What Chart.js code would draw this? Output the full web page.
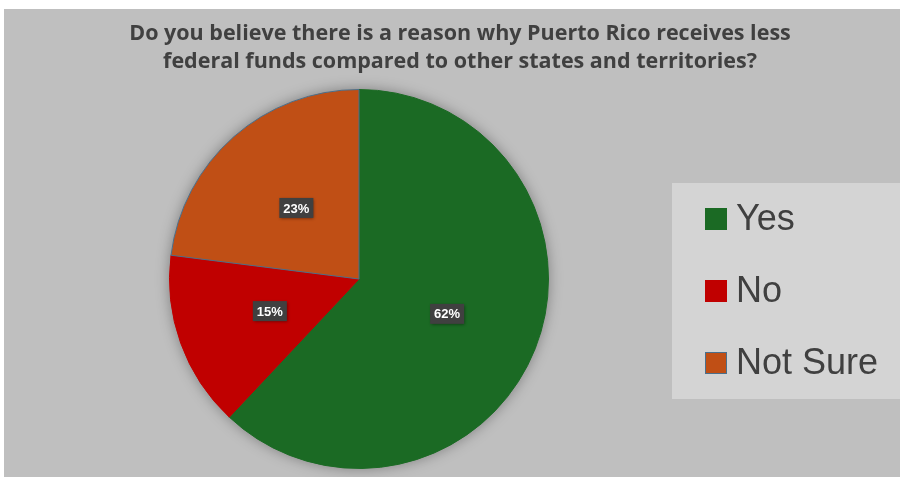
<!DOCTYPE html>
<html>
<head>
<meta charset="utf-8">
<script src="https://cdn.jsdelivr.net/npm/chart.js@4/dist/chart.umd.min.js"></script>
<style>
  html, body { margin: 0; padding: 0; background: #ffffff; }
  #wrap { position: relative; width: 900px; height: 477px; }
</style>
</head>
<body>
<div id="wrap"><canvas id="myChart" width="900" height="477"></canvas></div>
<script>
const titleLines = [
    "Do you believe there is a reason why Puerto Rico receives less",
    "federal funds compared to other states and territories?"
];
const answers = ["Yes", "No", "Not Sure"];
const shares = [62, 15, 23];
const sliceColors = ["#1b6a24", "#c00000", "#c04f15"];
const edgeColors = ["#1b6a24", "#c00000", "#4a6f8c"];

// background panel, title and the soft shadow under the pie
const backdrop = {
    id: "backdrop",
    beforeDraw(chart) {
        const ctx = chart.ctx;
        ctx.save();
        ctx.fillStyle = "#bfbfbf";
        ctx.fillRect(4, 9, chart.width - 4, chart.height - 9);

        ctx.fillStyle = "#404040";
        ctx.font = "bold 21.5px 'Open Sans', 'Liberation Sans', sans-serif";
        ctx.textAlign = "center";
        ctx.textBaseline = "alphabetic";
        ctx.fillText(titleLines[0], 460, 40);
        ctx.fillText(titleLines[1], 460, 68);
        ctx.restore();
    },
    beforeDatasetsDraw(chart) {
        const arc = chart.getDatasetMeta(0).data[0];
        if (!arc) return;
        const ctx = chart.ctx;
        ctx.save();
        ctx.shadowColor = "rgba(0,0,0,0.35)";
        ctx.shadowBlur = 14;
        ctx.fillStyle = "#bfbfbf";
        ctx.beginPath();
        ctx.arc(arc.x, arc.y, arc.outerRadius, 0, Math.PI * 2);
        ctx.fill();
        ctx.restore();
    }
};

// percentage tags on each slice plus the boxed legend on the right
const tagsAndLegend = {
    id: "tagsAndLegend",
    afterDatasetsDraw(chart) {
        const ctx = chart.ctx;
        const meta = chart.getDatasetMeta(0);
        ctx.save();
        ctx.font = "bold 13px 'Liberation Sans', Arial, sans-serif";
        ctx.textAlign = "center";
        ctx.textBaseline = "middle";
        meta.data.forEach((el, i) => {
            const p = el.tooltipPosition();
            const txt = shares[i] + "%";
            const w = ctx.measureText(txt).width + 8;
            const h = 20;
            ctx.shadowColor = "rgba(0,0,0,0.45)";
            ctx.shadowBlur = 3;
            ctx.shadowOffsetX = 1;
            ctx.shadowOffsetY = 1;
            ctx.fillStyle = "#404040";
            ctx.fillRect(p.x - w / 2, p.y - h / 2, w, h);
            ctx.shadowColor = "transparent";
            ctx.fillStyle = "#ffffff";
            ctx.fillText(txt, p.x, p.y + 1);
        });
        ctx.restore();

        // legend panel
        ctx.save();
        ctx.fillStyle = "#d4d4d4";
        ctx.fillRect(672, 183, 228, 216);
        ctx.font = "36px 'Liberation Sans', Arial, sans-serif";
        ctx.textAlign = "left";
        ctx.textBaseline = "middle";
        answers.forEach((name, i) => {
            const y = 219 + i * 72;
            ctx.fillStyle = sliceColors[i];
            ctx.fillRect(705, y - 11, 22, 22);
            ctx.strokeStyle = edgeColors[i];
            ctx.lineWidth = 1;
            ctx.strokeRect(705.5, y - 10.5, 21, 21);
            ctx.fillStyle = "#404040";
            ctx.fillText(name, 736, y + 1);
        });
        ctx.restore();
    }
};

new Chart("myChart", {
    type: "pie",
    data: {
        labels: answers,
        datasets: [
            {
                data: shares,
                backgroundColor: sliceColors,
                borderColor: edgeColors,
                borderWidth: 1,
                hoverOffset: 0,
            },
        ],
    },
    options: {
        responsive: false,
        animation: false,
        layout: {
            padding: { left: 169, right: 351, top: 89, bottom: 8 },
        },
        plugins: {
            legend: { display: false },
            tooltip: { enabled: false },
        },
    },
    plugins: [backdrop, tagsAndLegend],
});
</script>
</body>
</html>
